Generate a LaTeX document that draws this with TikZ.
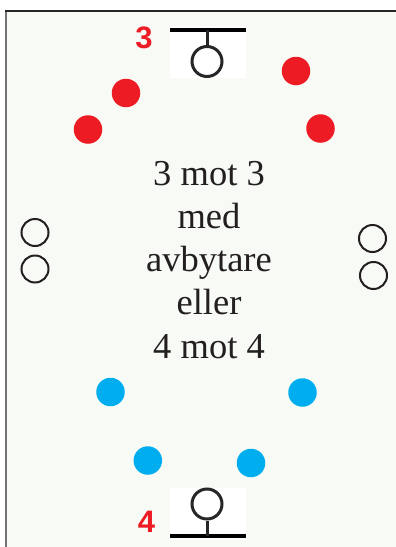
\documentclass[tikz,border=0pt]{standalone}
\usepackage{fontspec}
\setmainfont{Liberation Serif}
\newfontfamily\labelfont{Liberation Sans}
\definecolor{fieldbg}{HTML}{F8FAF5}
\definecolor{redp}{HTML}{ED1C24}
\definecolor{bluep}{HTML}{00AEEF}
\definecolor{textc}{HTML}{231F20}
\tikzset{
  player/.style={circle, inner sep=0pt, minimum size=28.5pt},
  redplayer/.style={player, fill=redp},
  blueplayer/.style={player, fill=bluep},
  subst/.style={circle, inner sep=0pt, minimum size=27pt, draw=textc, line width=2pt},
  goalbox/.style={fill=white, draw=none},
  goalring/.style={circle, inner sep=0pt, minimum size=30pt, draw=black!85, line width=3pt},
  goalbar/.style={line width=4pt, black},
  goalstem/.style={line width=3pt, black!85},
  teamlabel/.style={text=redp, font=\labelfont\bfseries\fontsize{31}{31}\selectfont, inner sep=0pt},
  maintext/.style={text=textc, font=\fontsize{36.5}{43}\selectfont, inner sep=0pt, anchor=base}
}
\begin{document}
\begin{tikzpicture}[x=1pt,y=-1pt]
\useasboundingbox (0,0) rectangle (396,547);
% field
\fill[fieldbg] (6,11) rectangle (396,547);
\draw[line width=2pt, black!55] (6,11) -- (6,547);
\draw[line width=1.5pt, black!85] (5,11) -- (396,11);
% top goal
\fill[goalbox] (170,26) rectangle (246,78);
\node[goalring] (g3) at (207,61.5) {};
\coordinate (g3bar) at (207,29.5);
\draw[goalbar] (170,29.5) -- (246,29.5);
\draw[goalstem] (g3bar) -- (g3.north);
\node[teamlabel] (l3) at (144,37.5) {3};
% bottom goal
\fill[goalbox] (170,488) rectangle (246,540);
\node[goalring] (g4) at (207,504) {};
\coordinate (g4bar) at (207,535.5);
\draw[goalbar] (170,535.5) -- (246,535.5);
\draw[goalstem] (g4bar) -- (g4.south);
\node[teamlabel] (l4) at (146.5,522) {4};
% red players
\node[redplayer] (r1) at (126,93) {};
\node[redplayer] (r2) at (296,71) {};
\node[redplayer] (r3) at (88,129.5) {};
\node[redplayer] (r4) at (320.5,128.5) {};
% blue players
\node[blueplayer] (b1) at (110.5,392) {};
\node[blueplayer] (b2) at (302.5,392.5) {};
\node[blueplayer] (b3) at (147.8,460.5) {};
\node[blueplayer] (b4) at (251,463) {};
% substitutes
\node[subst] (s1) at (35,232.5) {};
\node[subst] (s2) at (35,269) {};
\node[subst] (s3) at (372.5,238.5) {};
\node[subst] (s4) at (373.5,275.5) {};
% text
\node[maintext] (t1) at (209,185) {3 mot 3};
\node[maintext] (t2) at (209,228.25) {med};
\node[maintext] (t3) at (209,271.5) {avbytare};
\node[maintext] (t4) at (209,314.75) {eller};
\node[maintext] (t5) at (209,358) {4 mot 4};
\end{tikzpicture}
\end{document}
